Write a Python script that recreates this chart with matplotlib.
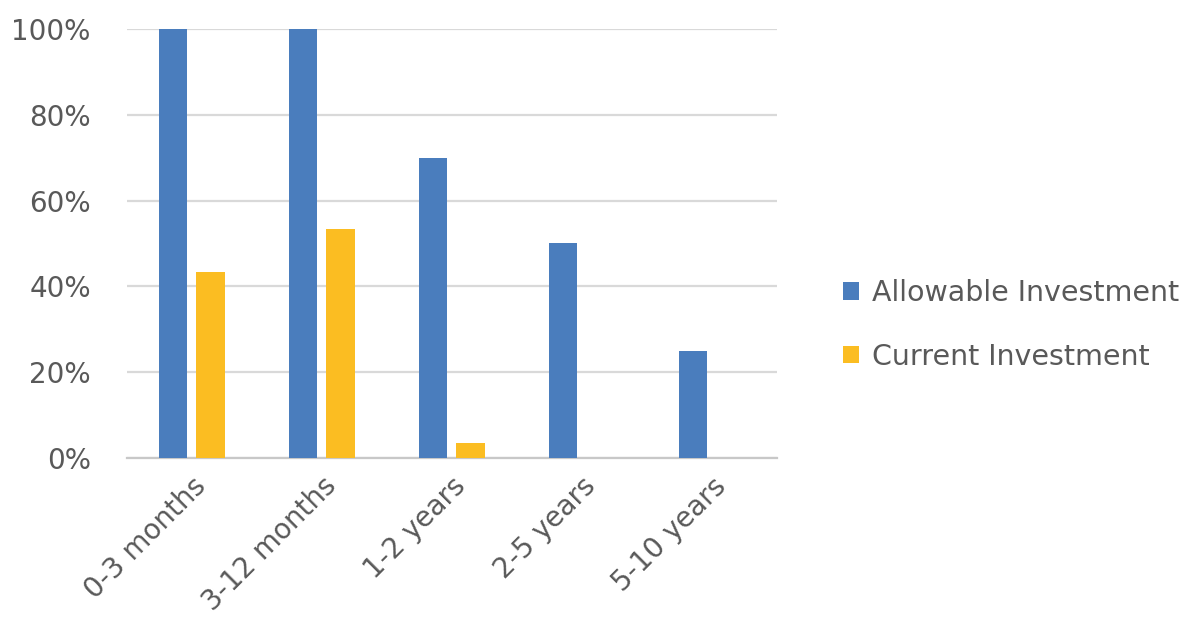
import numpy as np
import matplotlib.pyplot as plt
from matplotlib.ticker import PercentFormatter

# data
categories = ['0-3 months', '3-12 months', '1-2 years', '2-5 years', '5-10 years']
allowable = [1.00, 1.00, 0.70, 0.50, 0.25]
current = [0.434, 0.534, 0.036, 0.0, 0.0]

blue = '#4a7dbd'
gold = '#fbbd22'
grey_text = '#595959'

plt.rcParams['font.family'] = ['DejaVu Sans']

fig = plt.figure(figsize=(11.97, 6.37), dpi=100)
ax = fig.add_axes([0.106, 0.281, 0.543, 0.6735])

x = np.arange(len(categories))
width = 0.22
offset = 0.145
ax.bar(x - offset, allowable, width, color=blue, label='Allowable Investment', zorder=3)
# skip zero-height bars so nothing shows on the axis
cur = np.array(current)
mask = cur > 0
ax.bar(x[mask] + offset, cur[mask], width, color=gold, label='Current Investment', zorder=3)

ax.set_xlim(-0.5, len(categories) - 0.5)
ax.set_ylim(0, 1)
ax.set_yticks(np.arange(0, 1.01, 0.2))
ax.yaxis.set_major_formatter(PercentFormatter(1.0, decimals=0))
ax.grid(axis='y', color='#d9d9d9', linewidth=1.6, zorder=0)
ax.set_axisbelow(True)

for s in ['top', 'right', 'left']:
    ax.spines[s].set_visible(False)
ax.spines['bottom'].set_color('#c8c8c8')
ax.spines['bottom'].set_linewidth(1.6)

ax.tick_params(axis='both', length=0, colors=grey_text, labelsize=20)
ax.tick_params(axis='y', pad=26)
ax.set_xticks(x)
ax.set_xticklabels(categories, rotation=45, ha='right', rotation_mode='anchor')
ax.tick_params(axis='x', pad=10)

fig.legend(loc='center left', bbox_to_anchor=(0.683, 0.49), frameon=False,
           fontsize=20.5, labelcolor=grey_text, handlelength=0.55, handleheight=0.55,
           handletextpad=0.45, labelspacing=1.25)

fig.savefig('out.png', dpi=100, facecolor='white')
